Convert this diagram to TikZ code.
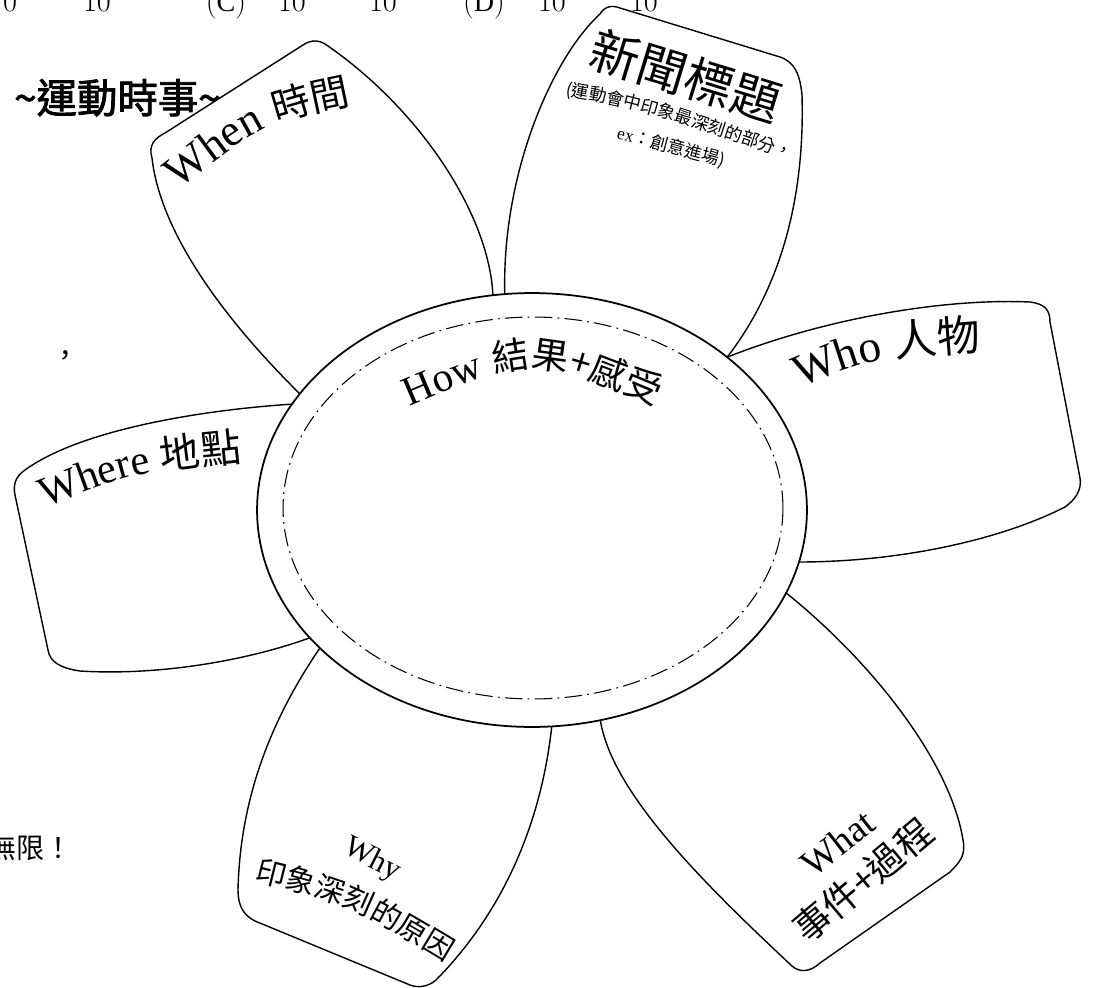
\documentclass[tikz,border=0pt]{standalone}
\usepackage{fontspec}
\setmainfont{Liberation Serif}
\newfontfamily\cjk{Noto Sans CJK TC}
\newfontfamily\cjkb[FakeBold=2]{Noto Sans CJK TC}
\usetikzlibrary{decorations.text}
\newcommand{\fsz}[1]{\fontsize{#1}{#1}\selectfont}

\begin{document}
\begin{tikzpicture}[x=0.02cm,y=-0.02cm,
    petal/.style={draw,fill=white,line width=0.8pt},
    along/.style={decorate,decoration={text along path,text align=center,text={#1}}}]

  \useasboundingbox (0,0) rectangle (1093,988);

  % cut-off lines of the page
  \foreach \xx/\lbl [count=\i] in {10/$0$,97/$10$,226/$\mathrm{(C)}$,292/$10$,383/$10$,484/$\mathrm{(D)}$,552/$10$,644/$10$}
    \node (cut\i) [anchor=base,font=\fsz{16}] at (\xx,11) {\lbl};
  \node (topic) [anchor=base west,font=\cjkb\fsz{23}] at (8,113) {\textasciitilde 運動時事\textasciitilde};
  \node (comma) [anchor=base west,font=\cjk\fsz{16}] at (45,365) {，};
  \node (limit) [anchor=base west,font=\cjk\fsz{16}] at (-18,858) {無限！};

  % petals
  \path[petal] (300,394) .. controls (220,315) and (160,230) .. (152,158)
    .. controls (148,145) and (155,138) .. (165,133) -- (303,45)
    .. controls (312,39) and (320,40) .. (328,46)
    .. controls (420,110) and (490,215) .. (493,297) -- cycle;
  \path[petal] (505,300) .. controls (500,180) and (550,60) .. (600,14)
    .. controls (605,6) and (612,5) .. (620,8) -- (780,57)
    .. controls (795,62) and (800,75) .. (802,95)
    .. controls (805,200) and (780,290) .. (725,360) -- cycle;
  \path[petal] (725,358) .. controls (820,320) and (940,298) .. (1030,302)
    .. controls (1045,304) and (1050,310) .. (1050,322) -- (1080,478)
    .. controls (1082,490) and (1075,500) .. (1065,507)
    .. controls (1000,540) and (900,562) .. (798,562) -- cycle;
  \path[petal] (785,592) .. controls (870,660) and (950,760) .. (963,840)
    .. controls (966,855) and (960,862) .. (950,872) -- (820,963)
    .. controls (810,972) and (800,973) .. (792,966)
    .. controls (700,880) and (610,790) .. (600,718) -- cycle;
  \path[petal] (552,724) .. controls (542,820) and (505,910) .. (436,980)
    .. controls (428,987) and (418,988) .. (410,985) -- (255,921)
    .. controls (243,915) and (238,905) .. (238,890)
    .. controls (240,800) and (270,720) .. (322,645) -- cycle;
  \path[petal] (294,404) .. controls (200,410) and (80,430) .. (25,470)
    .. controls (15,477) and (13,485) .. (15,495) -- (48,650)
    .. controls (50,662) and (60,668) .. (80,671)
    .. controls (160,676) and (250,660) .. (312,637) -- cycle;

  % centre
  \draw[line width=1pt,fill=white] (532,510) ellipse [x radius=5.5cm,y radius=4.34cm];
  \draw[line width=0.6pt,dash pattern=on 10pt off 3pt on 1pt off 3pt] (533,508) ellipse [x radius=5cm,y radius=3.82cm];

  % labels
  \path[along={|\fsz{23.5}|How |\cjk\fsz{21}|結果+感受}] (398,411) .. controls (532,354) .. (667,411);
  \path[along={|\fsz{25.5}|When |\cjk\fsz{22}|時間}] (170,196) .. controls (264,122) .. (362,102);
  \path[along={|\fsz{24}|Where |\cjk\fsz{23}|地點}] (36,511) .. controls (135,472) .. (252,460);
  \path[along={|\fsz{26}|Who |\cjk\fsz{24.5}|人物}] (790,392) .. controls (870,358) .. (992,349);
  \node (headline) [rotate=-17,font=\cjk\fsz{28}] at (686,76) {新聞標題};
  \path[along={|\cjk\fsz{10}|(運動會中印象最深刻的部分，}] (556,94) .. controls (636,108) .. (799,162);
  \node (example) [rotate=-15,font=\fsz{10}] at (671,147) {ex\cjk：創意進場)};
  \node (why) [rotate=-27,font=\fsz{17.5}] at (372,860) {Why};
  \path[along={|\cjk\fsz{17}|印象深刻的原因}] (236,876) .. controls (350,904) .. (462,972);
  \node (what) [rotate=38,font=\fsz{21.5}] at (838,843) {What};
  \node (whatsub) [rotate=40,font=\cjk\fsz{21}] at (863,880) {事件+過程};
\end{tikzpicture}
\end{document}
